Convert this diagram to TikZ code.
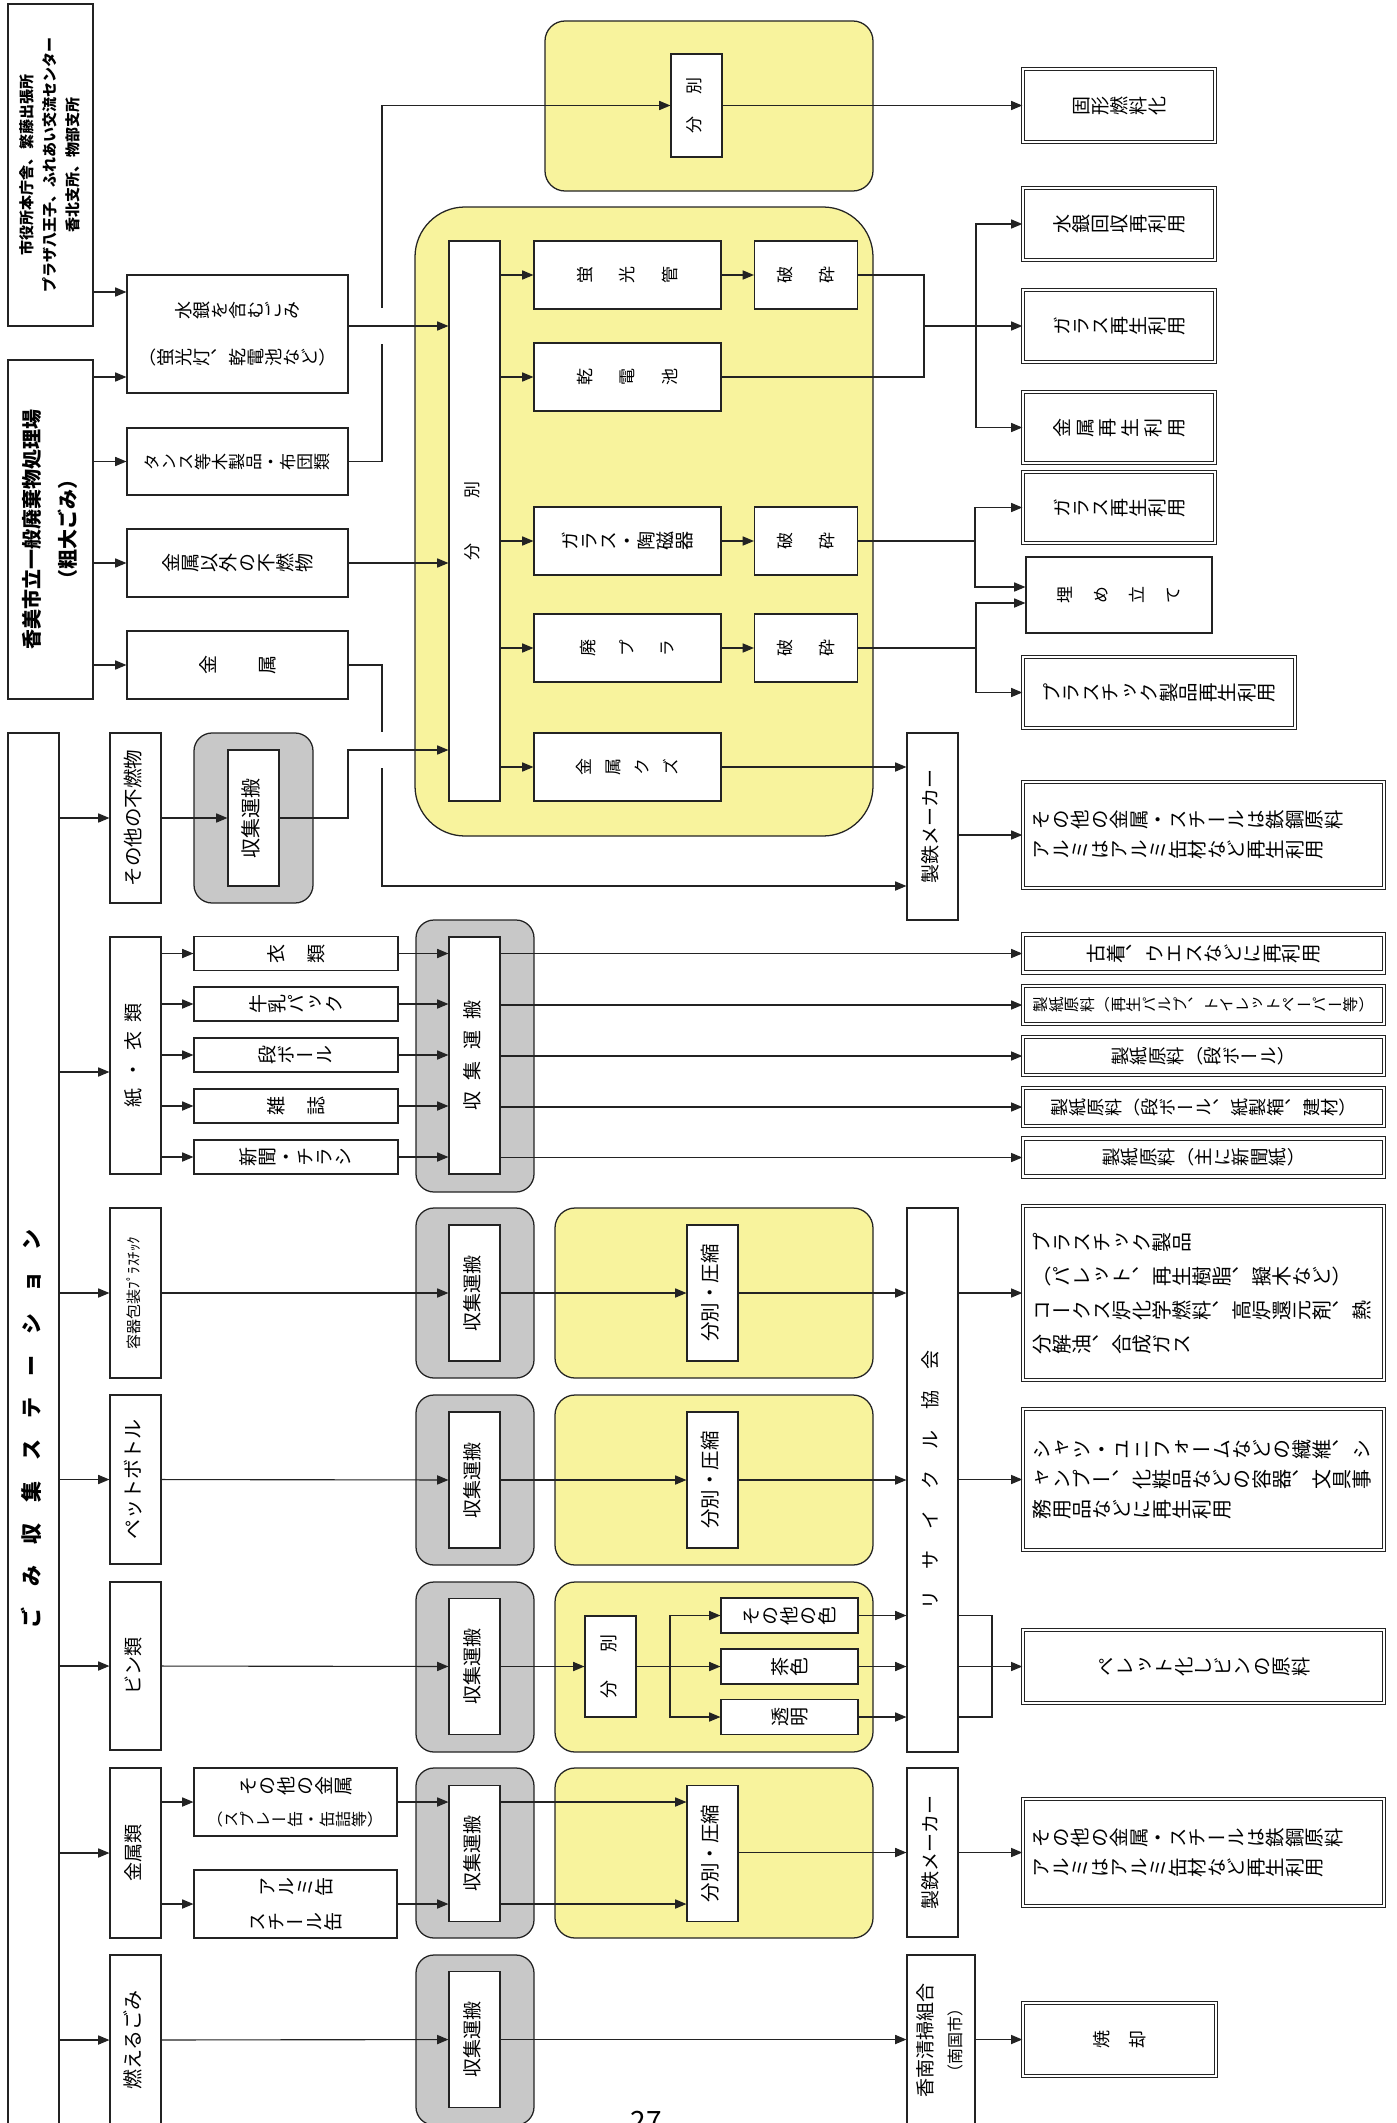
\documentclass[tikz,border=0pt]{standalone}
\usepackage{fontspec}
\usepackage{graphicx}
\usetikzlibrary{arrows.meta}
\setmainfont{Noto Sans CJK JP}
\newfontfamily\tate[Vertical=RotatedGlyphs]{Noto Sans CJK JP}
\definecolor{lc}{RGB}{35,35,35}
\definecolor{yfill}{RGB}{248,243,157}
\definecolor{gfill}{RGB}{200,200,200}
% sizes in px of the page (1px = 0.025cm)
\newcommand\fs[2]{\fontsize{\fpeval{#1*0.7113}}{\fpeval{#2*0.7113}}\selectfont}
\newcommand\hz[1]{\rotatebox{90}{\begin{tabular}{@{}c@{}}#1\end{tabular}}}
\newcommand\gap[1]{\hspace{#1em}}
% vertical writing, turned: every glyph on its side, optional gap between glyphs
\ExplSyntaxOn
\NewDocumentCommand\vtx{O{0}m}{
  \tl_set:Ne \l_tmpb_tl {#2}
  \bool_set_true:N \l_tmpa_bool
  \tl_map_inline:Nn \l_tmpb_tl {
    \bool_if:NF \l_tmpa_bool {\hspace{#1em}}
    \bool_set_false:N \l_tmpa_bool
    \rotatebox[origin=c]{90}{\makebox[1em]{\rule[-.12em]{0pt}{1em}##1}}
  }
}
\ExplSyntaxOff

\begin{document}
\begin{tikzpicture}[x=0.025cm, y=-0.025cm,
  box/.style={draw=lc, fill=white, line width=.8pt, inner sep=0pt, align=center},
  res/.style={box, line width=1pt, double=white, double distance=1.5pt},
  grp/.style={draw=lc, fill=gfill, line width=.9pt, rounded corners=.45cm, inner sep=0pt},
  ygrp/.style={draw=lc, fill=yfill, line width=.9pt, rounded corners=.5cm, inner sep=0pt},
  sz/.style 2 args={minimum width=#1*\pu, minimum height=#2*\pu},
  vt/.style={font=\tate\fs{#1}{#1}},
  ht/.style={font=\fs{#1}{#1}},
  arr/.style={draw=lc, line width=.8pt, -{Triangle[length=8pt,width=6.5pt]}},
  ln/.style={draw=lc, line width=.8pt},
  hop/.style={draw=white, line width=5pt}
]
\def\pu{0.025cm}
\useasboundingbox (0,0) rectangle (1396,2123);

% --- groups ---
\node[ygrp, sz={328}{170}] (topy) at (709,106) {};
\node[ygrp, sz={458}{629}, rounded corners=1.25cm] (bigy) at (644,521.5) {};
\node[grp, sz={119}{170}] (g1) at (253.5,818) {};
\node[grp, sz={118}{272}] (g2) at (475,1056) {};
\foreach \r/\cy in {3/1293,4/1480,5/1667,6/1853} {
  \node[grp, sz={118}{170}] (g\r) at (475,\cy) {};
  \node[ygrp, sz={318}{170}] (y\r) at (714,\cy) {};
}
\node[grp, sz={118}{170}] (g7) at (475,2040) {};

% --- sources ---
\node[box, sz={85}{322}, font=\bfseries\fs{15}{23}] (src1) at (50.5,165)
  {\hz{市役所本庁舎、繁藤出張所\\プラザ八王子、ふれあい交流センター\\香北支所、物部支所}};
\node[box, sz={85}{339}, font=\bfseries\fs{20}{35}] (src2) at (50.5,529.5)
  {\hz{香美市立一般廃棄物処理場\\（粗大ごみ）}};
\node[box, sz={221}{118}, font=\tate\fs{18}{46}] (hg) at (237.5,334) {\vtx{水銀を含むごみ}\\\vtx{（蛍光灯、乾電池など）}};
\node[box, sz={221}{67}, vt=17] (tansu) at (237.5,461.5) {\vtx{タンス等木製品・布団類}};
\node[box, sz={221}{68}, vt=19] (funen) at (237.5,563) {\vtx{金属以外の不燃物}};
\node[box, sz={221}{68}, vt=19] (kinzoku) at (237.5,665) {\vtx[2.1]{金属}};

% --- sorting ---
\node[box, sz={51}{103}, ht=17] (tb) at (696.5,105.5) {\hz{分\gap{1.35}別}};
\node[box, sz={51}{560}, ht=17] (bb) at (474.5,521) {\hz{分\gap{2.6}別}};
\node[box, sz={187}{68}, vt=17] (keikou) at (627.5,275) {\vtx[1.5]{蛍光管}};
\node[box, sz={187}{68}, vt=17] (kandenchi) at (627.5,377) {\vtx[1.5]{乾電池}};
\node[box, sz={187}{68}, vt=19] (glass) at (627.5,541) {\vtx{ガラス・陶磁器}};
\node[box, sz={187}{68}, vt=17] (haipla) at (627.5,648) {\vtx[1.35]{廃プラ}};
\node[box, sz={187}{68}, vt=17] (kuzu) at (627.5,767) {\vtx[.7]{金属クズ}};
\foreach \i/\cy in {1/275,2/541,3/648}
  \node[box, sz={103}{68}, vt=17] (hasai\i) at (806,\cy) {\vtx[1.5]{破砕}};

% --- results (top) ---
\node[res, sz={192}{73}, vt=19] (koukei) at (1119,105.5) {\vtx{固形燃料化}};
\node[res, sz={192}{72}, vt=19] (suigin) at (1119,224) {\vtx{水銀回収再利用}};
\node[res, sz={192}{72}, vt=19] (glassR1) at (1119,326) {\vtx{ガラス再生利用}};
\node[res, sz={192}{71}, vt=19] (kinzokuR) at (1119,427.5) {\vtx[.2]{金属再生利用}};
\node[res, sz={192}{71}, vt=19] (glassR2) at (1119,507.5) {\vtx{ガラス再生利用}};
\node[box, sz={186}{76}, vt=17] (umetate) at (1119,595) {\vtx[1.1]{埋め立て}};
\node[res, sz={272}{71}, vt=19.5] (plaR) at (1159,692.5) {\vtx{プラスチック製品再生利用}};
\node[box, sz={51}{187}, ht=19] (mk1) at (932.5,826.5) {\hz{製鉄メーカー}};
\node[res, sz={361}{106}, text width=8.6cm, align=left, font=\tate\fs{19.5}{30}] (metalR1) at (1203.5,835)
  {\vtx{その他の金属・スチールは鉄鋼原料}\\\vtx{アルミはアルミ缶材など再生利用}};

% --- collection station ---
\node[box, sz={51}{1392}, font=\bfseries\fs{21}{21}] (st) at (33.5,1429) {\hz{ご　み　収　集　ス　テ　ー　シ　ョ　ン}};
\node[box, sz={51}{170}, ht=19.5] (sonota) at (135.5,818) {\hz{その他の不燃物}};
\node[box, sz={51}{237}, ht=19] (kami) at (135.5,1055.5) {\hz{紙\gap{.5}・\gap{.5}衣\gap{.5}類}};
\node[box, sz={51}{170}, ht=15] (youki) at (135.5,1293) {\hz{容器包装ﾌﾟﾗｽﾁｯｸ}};
\node[box, sz={51}{169}, ht=20] (pet) at (135.5,1479.5) {\hz{ペットボトル}};
\node[box, sz={51}{168}, ht=19] (bin) at (135.5,1666) {\hz{ビン類}};
\node[box, sz={51}{170}, ht=19] (kinzokurui) at (135.5,1853) {\hz{金属類}};
\node[box, sz={51}{170}, ht=20] (moeru) at (135.5,2040) {\hz{燃えるごみ}};

\node[box, sz={51}{136}, ht=20] (c1) at (253.5,818) {\hz{収集運搬}};

% paper and clothes
\foreach \n/\cy/\g/\tx in {ifuku/953.5/1.1/衣類, gyunyu/1004/0/牛乳パック, dan/1055/0/段ボール, zasshi/1106/1.1/雑誌, shinbun/1157/0/新聞・チラシ}
  \node[box, sz={204}{34}, vt=19] (\n) at (296,\cy) {\vtx[\g]{\tx}};
\node[box, sz={51}{237}, ht=19] (c2) at (474.5,1055.5) {\hz{収\gap{.6}集\gap{.6}運\gap{.6}搬}};
\foreach \n/\cy/\fz/\tx in {furugi/953.5/19.5/古着、ウエスなどに再利用, seishi1/1005/15.5/製紙原料（再生パルプ、トイレットペーパー等）, seishi2/1056/18.5/製紙原料（段ボール）, seishi3/1107/18/製紙原料（段ボール、紙製箱、建材）, seishi4/1157.5/18.5/製紙原料（主に新聞紙）}
  \node[res, sz={361}{38}, vt=\fz] (\n) at (1203.5,\cy) {\vtx{\tx}};

% rows with collection and sorting
\foreach \r/\cy in {3/1293,4/1480,5/1666.5,6/1853.5,7/2039.5}
  \node[box, sz={51}{136}, ht=19] (c\r) at (474.5,\cy) {\hz{収集運搬}};
\foreach \r/\cy in {3/1293,4/1480,6/1853.5}
  \node[box, sz={51}{136}, ht=19.5] (s\r) at (712.5,\cy) {\hz{分別・圧縮}};
\node[box, sz={51}{544}, ht=19] (recycle) at (932.5,1480)
  {\hz{リ\gap{1.1}サ\gap{1.1}イ\gap{1.1}ク\gap{1.1}ル\gap{1.1}協\gap{1.1}会}};
\node[res, sz={361}{174}, text width=8.6cm, align=left, font=\tate\fs{20}{34}] (plaR2) at (1203.5,1293)
  {\vtx{プラスチック製品}\\\vtx{（パレット、再生樹脂、擬木など）}\\\vtx{コークス炉化学燃料、高炉還元剤、熱}\\\vtx{分解油、合成ガス}};
\node[res, sz={361}{141}, text width=8.6cm, align=left, font=\tate\fs{20}{30}] (petR) at (1203.5,1479.5)
  {\vtx{シャツ・ユニフォームなどの繊維、シ}\\\vtx{ャンプー、化粧品などの容器、文具事}\\\vtx{務用品などに再生利用}};

% bottles
\node[box, sz={51}{101}, ht=18] (b5) at (610.5,1666.5) {\hz{分\gap{1.6}別}};
\foreach \n/\cy/\tx in {sonotairo/1615.5/その他の色, chairo/1666.5/茶色, toumei/1717/透明}
  \node[box, sz={137}{35}, vt=19] (\n) at (789.5,\cy) {\vtx{\tx}};
\node[res, sz={361}{73}, vt=19.5] (binR) at (1203.5,1666.5) {\vtx{ペレット化しビンの原料}};

% metals
\node[box, sz={203}{68}, font=\tate\fs{19}{32}] (sonotakin) at (295.5,1802) {\vtx{その他の金属}\\{\fs{16}{32}\vtx{（スプレー缶・缶詰等）}}};
\node[box, sz={203}{68}, font=\tate\fs{19}{35}] (alumi) at (295.5,1904) {\vtx{アルミ缶}\\\vtx{スチール缶}};
\node[box, sz={51}{169}, ht=19] (mk2) at (932.5,1852.5) {\hz{製鉄メーカー}};
\node[res, sz={361}{107}, text width=8.6cm, align=left, font=\tate\fs{19.5}{30}] (metalR2) at (1203.5,1852.5)
  {\vtx{その他の金属・スチールは鉄鋼原料}\\\vtx{アルミはアルミ缶材など再生利用}};

% burnable
\node[box, sz={68}{170}, font=\fs{19}{29}] (konan) at (941,2040) {\hz{香南清掃組合\\\fs{16}{29}（南国市）}};
\node[res, sz={193}{73}, vt=18] (shoukyaku) at (1119.5,2039.5) {\vtx[1]{焼却}};
\node[font=\fs{28}{28}, anchor=north, inner sep=0pt] (pg) at (646,2111) {27};

% --- connectors ---
\coordinate (bx) at (382,0);
\coordinate (cx1) at (348,750);
\draw[arr] (src1.east |- 0,292) -- (hg.west |- 0,292);
\draw[arr] (src2.east |- 0,377) -- (hg.west |- 0,377);
\foreach \n in {tansu,funen,kinzoku} \draw[arr] (src2.east |- \n.west) -- (\n.west);
\draw[arr] (tansu.east) -| (bx |- tb.west) -- (tb.west);
\draw[arr] (tb.east) -- (koukei.west);
\draw[arr] (kinzoku.east) -| (bx |- 0,886) -- (mk1.west |- 0,886);
\draw[hop] (bx |- 0,308) -- (bx |- 0,344);
\draw[hop] (bx |- 0,732) -- (bx |- 0,768);
\draw[arr] (hg.east |- 0,326) -- (bb.west |- 0,326);
\draw[arr] (funen.east) -- (bb.west |- funen.east);
\draw[arr] (c1.east) -| (cx1) -- (bb.west |- cx1);

\foreach \n in {keikou,kandenchi,glass,haipla,kuzu} \draw[arr] (bb.east |- \n.west) -- (\n.west);
\draw[arr] (keikou) -- (hasai1);
\draw[arr] (glass) -- (hasai2);
\draw[arr] (haipla) -- (hasai3);

\coordinate (m1) at (924,326);
\coordinate (m2) at (976,326);
\coordinate (m3) at (975,541);
\coordinate (m4) at (976,648);
\draw[ln] (hasai1.east) -| (m1) |- (kandenchi.east);
\draw[arr] (m1) -- (glassR1.west);
\draw[arr] (m2) |- (suigin.west);
\draw[arr] (m2) |- (kinzokuR.west);
\draw[ln] (hasai2.east) -- (m3);
\draw[arr] (m3) |- (glassR2.west);
\draw[arr] (m3) |- (umetate.west |- 0,587);
\draw[ln] (hasai3.east) -- (m4);
\draw[arr] (m4) |- (umetate.west |- 0,603);
\draw[arr] (m4) |- (plaR.west);
\draw[arr] (kuzu.east) -- (mk1.west |- kuzu.east);
\draw[arr] (mk1.east |- metalR1.west) -- (metalR1.west);

% station
\foreach \n in {sonota,youki,pet,bin,kinzokurui,moeru} \draw[arr] (st.east |- \n.west) -- (\n.west);
\draw[arr] (st.east |- 0,1072) -- (kami.west |- 0,1072);
\draw[arr] (sonota) -- (c1);
\foreach \n/\m in {ifuku/furugi, gyunyu/seishi1, dan/seishi2, zasshi/seishi3, shinbun/seishi4} {
  \draw[arr] (kami.east |- \n.west) -- (\n.west);
  \draw[arr] (\n.east) -- (c2.west |- \n.east);
  \draw[arr] (c2.east |- \m.west) -- (\m.west);
}

% plastics, pet
\foreach \a/\r/\o in {youki/3/plaR2, pet/4/petR} {
  \draw[arr] (\a) -- (c\r);
  \draw[arr] (c\r) -- (s\r);
  \draw[arr] (s\r.east) -- (recycle.west |- s\r.east);
  \draw[arr] (recycle.east |- \o.west) -- (\o.west);
}

% bottles
\coordinate (m5) at (670,1666.5);
\coordinate (m6) at (992,1666.5);
\draw[arr] (bin) -- (c5);
\draw[arr] (c5.east) -- (b5.west |- c5.east);
\draw[arr] (b5.east) -- (chairo.west);
\draw[arr] (m5) |- (sonotairo.west);
\draw[arr] (m5) |- (toumei.west);
\foreach \n in {sonotairo,chairo,toumei} \draw[arr] (\n.east) -- (recycle.west |- \n.east);
\draw[ln] (recycle.east |- sonotairo.east) -| (m6) |- (recycle.east |- toumei.east);
\draw[arr] (recycle.east |- binR.west) -- (binR.west);

% metals
\foreach \n in {sonotakin,alumi} {
  \draw[arr] (kinzokurui.east |- \n.west) -- (\n.west);
  \draw[arr] (\n.east) -- (c6.west |- \n.east);
  \draw[arr] (c6.east |- \n.east) -- (s6.west |- \n.east);
}
\draw[arr] (s6.east |- mk2.west) -- (mk2.west);
\draw[arr] (mk2.east |- metalR2.west) -- (metalR2.west);

% burnable
\draw[arr] (moeru) -- (c7);
\draw[arr] (c7.east) -- (konan.west |- c7.east);
\draw[arr] (konan.east |- shoukyaku.west) -- (shoukyaku.west);
\end{tikzpicture}
\end{document}
